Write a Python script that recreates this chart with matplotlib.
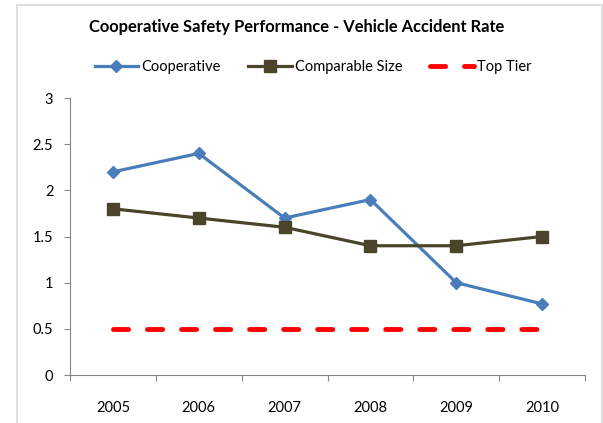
import matplotlib
matplotlib.use("Agg")
import matplotlib.pyplot as plt
from matplotlib.patches import Rectangle

plt.rcParams['font.family'] = ['Lato', 'DejaVu Sans']

years = ['2005', '2006', '2007', '2008', '2009', '2010']
cooperative = [2.2, 2.4, 1.7, 1.9, 1.0, 0.77]
comparable = [1.8, 1.7, 1.6, 1.4, 1.4, 1.5]
top_tier = [0.5, 0.5, 0.5, 0.5, 0.5, 0.5]
y_ticks = [0, 0.5, 1, 1.5, 2, 2.5, 3]
y_labels = ['0', '0.5', '1', '1.5', '2', '2.5', '3']

fig = plt.figure(figsize=(6.03, 4.23), dpi=100)
ax = fig.add_axes([70/603, 48/423, (585-70)/603, (375-98)/423])

x = list(range(len(years)))
ax.plot(x, cooperative, color='#4A7EBB', lw=2.3, marker='D', ms=6.5,
        markeredgecolor='#4A7EBB', label='Cooperative')
ax.plot(x, comparable, color='#4A452A', lw=2.3, marker='s', ms=8,
        markeredgecolor='#4A452A', label='Comparable Size')
l3, = ax.plot(x, top_tier, color='#FF0000', lw=3.5, label='Top Tier',
              dash_capstyle='round')
l3.set_dashes((3.1, 3.9))

ax.set_xlim(-0.5, len(years) - 0.5)
ax.set_ylim(0, 3)
ax.set_yticks(y_ticks)
ax.set_yticklabels(y_labels)
ax.set_xticks(x)
ax.set_xticklabels(years)
ax.set_xticks([i - 0.5 for i in range(len(years) + 1)], minor=True)
ax.tick_params(axis='x', which='major', length=0, pad=19, labelsize=10.5)
ax.tick_params(axis='x', which='minor', length=4, width=0.8, color='#868686', direction='out')
ax.tick_params(axis='y', length=4, width=0.8, color='#868686', pad=8, labelsize=10.5)
for s in ['top', 'right']:
    ax.spines[s].set_visible(False)
for s in ['left', 'bottom']:
    ax.spines[s].set_color('#868686')
    ax.spines[s].set_linewidth(0.8)

fig.text(297/603, 1 - 27/423, 'Cooperative Safety Performance - Vehicle Accident Rate',
         ha='center', va='center', fontsize=11.9, fontweight='bold')

leg = fig.legend(loc='center', bbox_to_anchor=(313/603, 1 - 67/423), ncol=3,
                 frameon=False, fontsize=10.5, handlelength=3.0, handletextpad=0.2,
                 columnspacing=1.9)

# outer chart border
fig.patches.append(Rectangle((17/603, -0.1), (602-17)/603, 1 - 5/423 + 0.1,
                             transform=fig.transFigure, fill=False,
                             edgecolor='#D9D9D9', lw=1.2))

fig.savefig('out.png', dpi=100)
